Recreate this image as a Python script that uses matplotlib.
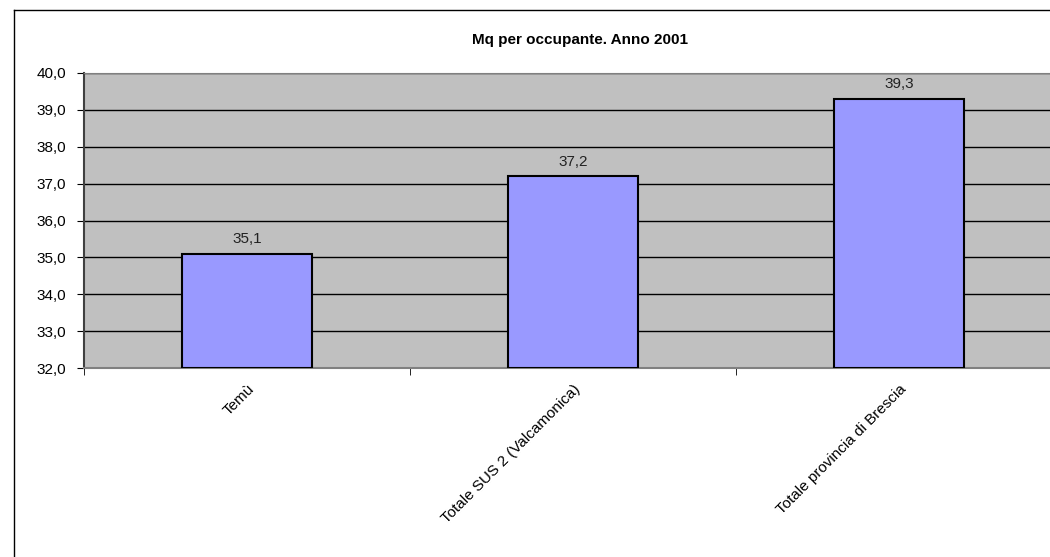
import matplotlib.pyplot as plt
from matplotlib.lines import Line2D
from matplotlib.ticker import FuncFormatter, FixedLocator

categories = ['Temù', 'Totale SUS 2 (Valcamonica)', 'Totale provincia di Brescia']
values = [35.1, 37.2, 39.3]
title = 'Mq per occupante. Anno 2001'

plt.rcParams['font.family'] = ['Liberation Sans', 'DejaVu Sans']

fig = plt.figure(figsize=(10.5, 5.57), dpi=100)
ax = fig.add_axes([84 / 1050, 1 - 368 / 557, 978 / 1050, 295 / 557])

# outer chart frame (only left and top edges visible)
fig.add_artist(Line2D([14 / 1050, 14 / 1050], [0, 1 - 10 / 557], color='black', lw=1))
fig.add_artist(Line2D([14 / 1050, 1], [1 - 10 / 557, 1 - 10 / 557], color='black', lw=1))

ax.set_facecolor('#C0C0C0')
x = range(len(categories))
ax.bar(x, [v - 32 for v in values], bottom=32, width=0.4,
       color='#9999FF', edgecolor='black', linewidth=1.5, zorder=3)

for xi, v in zip(x, values):
    ax.text(xi, v + 0.2, f'{v:.1f}'.replace('.', ','), ha='center', va='bottom',
            fontsize=11, color='#222222')

ax.set_xlim(-0.5, len(categories) - 0.5)
ax.set_ylim(32, 40)
ax.set_yticks(range(32, 41))
ax.yaxis.set_major_formatter(FuncFormatter(lambda v, p: f'{v:.1f}'.replace('.', ',')))
ax.grid(axis='y', color='black', lw=1, zorder=1)
ax.set_axisbelow(True)

ax.set_xticks(list(x))
ax.set_xticklabels(categories, rotation=45, ha='right', va='top',
                   rotation_mode='anchor', fontsize=11)
ax.xaxis.set_minor_locator(FixedLocator([i + 0.5 for i in range(-1, len(categories))]))
ax.tick_params(axis='x', which='major', length=0, pad=10)
ax.tick_params(axis='x', which='minor', length=5, color='black')
ax.tick_params(axis='y', length=5, color='black', labelsize=11, pad=8)

for s in ['top', 'right']:
    ax.spines[s].set_color('#808080')
ax.spines['left'].set_color('#404040')
ax.spines['left'].set_linewidth(1.5)
ax.spines['bottom'].set_color('#808080')
ax.spines['bottom'].set_linewidth(1.5)

fig.text(580 / 1050, 1 - 40 / 557, title, ha='center', va='center',
         fontsize=11, fontweight='bold')

fig.savefig('out.png', dpi=100)
